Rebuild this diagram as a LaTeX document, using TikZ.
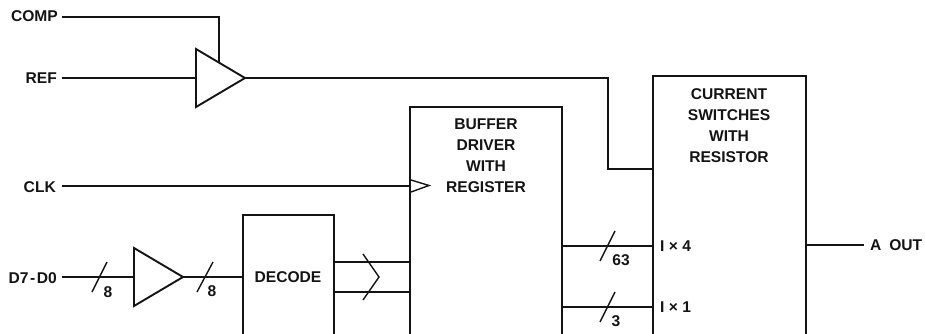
\documentclass[tikz,border=0pt]{standalone}
\usepackage{fontspec}
\setmainfont{Liberation Sans}
\usetikzlibrary{shapes.geometric}
\tikzset{
  wire/.style={draw=black!92,line width=1.4pt},
  box/.style={draw=black!92,line width=2.1pt,rectangle,inner sep=0,outer sep=0,anchor=north west},
  amp/.style={draw=black!92,line width=1.9pt,isosceles triangle,isosceles triangle stretches,
     minimum width=58pt,minimum height=49pt,inner sep=0,outer sep=0,anchor=apex},
  lab/.style={font=\fontsize{15.6}{21}\selectfont\bfseries,inner sep=0,text=black!92},
  pinlab/.style={lab,anchor=east},
  stack/.style={lab,align=center,anchor=north},
}
\begin{document}
\begin{tikzpicture}[x=1pt,y=-1pt]
\useasboundingbox (0,0) rectangle (925,334);
% blocks
\node[box,minimum width=91pt,minimum height=120.5pt] (dec) at (243,215) {};
\node[box,minimum width=152pt,minimum height=228.5pt] (buf) at (410,107) {};
\node[box,minimum width=153pt,minimum height=259.5pt] (cur) at (653,76) {};
\node[amp] (a1) at (245,78) {};
\node[amp] (a2) at (183,277) {};
% texts
\node[pinlab] (comp) at (58,16) {COMP};
\node[pinlab] (ref) at (57,78) {REF};
\node[pinlab] (clk) at (56,187) {CLK};
\node[pinlab] (d) at (57,278) {D7\kern1.5pt-\kern1.5ptD0};
\node[lab] (dectxt) at (288,277) {DECODE};
\node[stack] (buftxt) at (486,119) {BUFFER\\DRIVER\\WITH\\REGISTER};
\node[stack] (curtxt) at (729,88) {CURRENT\\SWITCHES\\WITH\\RESISTOR};
\node[lab,anchor=west] (ix4) at (660,246) {I × 4};
\node[lab,anchor=west] (ix1) at (660,307) {I × 1};
\node[lab,anchor=west] (out) at (870,245) {A\kern3.5pt\ OUT};
\node[lab] (n8a) at (108,292) {8};
\node[lab] (n8b) at (212,291) {8};
\node[lab] (n63) at (621,260) {63};
\node[lab] (n3) at (616,321) {3};
% connectors
\coordinate (c0) at (62,17);
\coordinate (c1) at (219,17);
\coordinate (c2) at (219,62);
\draw[wire] (c0) -- (c1) -- (c2);
\coordinate (r0) at (62,78);
\draw[wire] (r0) -- (a1.west);
\coordinate (r1) at (608,78);
\coordinate (r2) at (608,169);
\draw[wire] (a1.apex) -- (r1) -- (r2) -- (r2 -| cur.west);
\coordinate (k0) at (62,186);
\draw[wire] (k0) -- (k0 -| buf.west);
\coordinate (d0) at (62,277);
\draw[wire] (d0) -- (a2.west);
\draw[wire] (a2.apex) -- (dec.west |- a2.apex);
\coordinate (u1) at (0,262);
\coordinate (u2) at (0,292);
\draw[wire] (dec.east |- u1) -- (buf.west |- u1);
\draw[wire] (dec.east |- u2) -- (buf.west |- u2);
\coordinate (v1) at (0,246);
\coordinate (v2) at (0,307);
\draw[wire] (buf.east |- v1) -- (cur.west |- v1);
\draw[wire] (buf.east |- v2) -- (cur.west |- v2);
\coordinate (o1) at (864,245);
\draw[wire] (cur.east |- o1) -- (o1);
% bus marks
\draw[wire] (92,292) -- (107,262);
\draw[wire] (197,292) -- (213,262);
\draw[wire] (600,261) -- (615,231);
\draw[wire] (600,322) -- (615,292);
\draw[wire] (363,254) -- (379,277) -- (363,300);
% clock
\draw[wire] (411,180) -- (429,185.5) -- (411,192);
\end{tikzpicture}
\end{document}
